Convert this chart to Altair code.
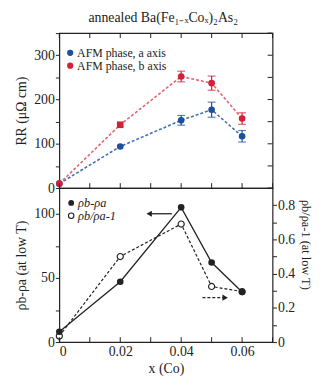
import altair as alt
import pandas as pd

# ---- data ----
x_co = [0.0, 0.02, 0.04, 0.05, 0.06]
rr_a = [10, 94, 153, 177, 117]
rr_a_err = [0, 4, 11, 17, 13]
rr_b = [10, 143, 252, 237, 157]
rr_b_err = [0, 4, 12, 16, 13]
diff_ba = [8, 47, 105, 62, 39]
ratio_ba = [0.035, 0.50, 0.69, 0.325, 0.295]

x_ticks = [0, 0.01, 0.02, 0.03, 0.04, 0.05, 0.06, 0.07]
rr_ticks = [0, 50, 100, 150, 200, 250, 300, 350]
diff_ticks = [0, 25, 50, 75, 100]
ratio_ticks = [0, 0.1, 0.2, 0.3, 0.4, 0.5, 0.6, 0.7, 0.8]

title_text = "annealed Ba(Fe₁₋ₓCoₓ)₂As₂"
legend_top = ["AFM phase, a axis", "AFM phase, b axis"]
legend_bot = ["ρb-ρa", "ρb/ρa-1"]

FONT = "Liberation Serif"
W, H1, H2 = 216, 157, 156
BLUE, RED = "#1c4f9c", "#d31f37"
LBLUE, LRED = "#4470b3", "#e06670"
INK = "#222222"

top_df = pd.DataFrame({"x": x_co, "a": rr_a, "a_err": rr_a_err, "b": rr_b, "b_err": rr_b_err})
top_df["a_lo"] = top_df["a"] - top_df["a_err"]
top_df["a_hi"] = top_df["a"] + top_df["a_err"]
top_df["b_lo"] = top_df["b"] - top_df["b_err"]
top_df["b_hi"] = top_df["b"] + top_df["b_err"]
bot_df = pd.DataFrame({"x": x_co, "d": diff_ba, "r": ratio_ba})
xt_df = pd.DataFrame({"t": x_ticks})
rrt_df = pd.DataFrame({"v": rr_ticks})
one = pd.DataFrame({"k": [0]})

xscale = alt.Scale(domain=[0, 0.07], nice=False, zero=False)

# ---------- top panel ----------
yscale_top = alt.Scale(domain=[0, 350], nice=False)
axis_top = alt.Axis(values=rr_ticks, labelExpr="datum.value % 100 === 0 ? datum.label : ''",
                    format="d", title="RR (μΩ cm)", tickSize=4, labelPadding=1, titlePadding=5)


def yt(field):
    return alt.Y(field, type="quantitative", scale=yscale_top, axis=axis_top)


def xt(field):
    return alt.X(field, type="quantitative", scale=xscale, axis=None)


tb = alt.Chart(top_df)
line_a = tb.mark_line(color=LBLUE, strokeDash=[3, 2], strokeWidth=1.6).encode(x=xt("x"), y=yt("a"))
line_b = tb.mark_line(color=LRED, strokeDash=[3, 2], strokeWidth=1.6).encode(x=xt("x"), y=yt("b"))
eb = []
for s, col in (("a", BLUE), ("b", RED)):
    base = tb.transform_filter(f"datum.{s}_err > 5")
    eb.append(base.mark_rule(color=col, strokeWidth=1.2).encode(x=xt("x"), y=yt(f"{s}_lo"), y2=f"{s}_hi"))
    eb.append(base.mark_tick(color=col, orient="horizontal", size=8, thickness=1.2).encode(x=xt("x"), y=yt(f"{s}_lo")))
    eb.append(base.mark_tick(color=col, orient="horizontal", size=8, thickness=1.2).encode(x=xt("x"), y=yt(f"{s}_hi")))
pts_a = tb.mark_point(shape="circle", filled=True, color=BLUE, size=45, opacity=1).encode(x=xt("x"), y=yt("a"))
pts_b_c = tb.transform_filter("datum.x != 0.02").mark_point(shape="circle", filled=True, color=RED, size=45, opacity=1).encode(x=xt("x"), y=yt("b"))
pts_b_s = tb.transform_filter("datum.x == 0.02").mark_point(shape="square", filled=True, color=RED, size=45, opacity=1).encode(x=xt("x"), y=yt("b"))

tk = alt.Chart(xt_df)
top_ticks_up = tk.mark_rule(color=INK).encode(x=xt("t"), y=alt.value(0), y2=alt.value(5))
top_ticks_dn = tk.mark_rule(color=INK).encode(x=xt("t"), y=alt.value(H1), y2=alt.value(H1 - 5))
top_ticks_r = alt.Chart(rrt_df).mark_rule(color=INK).encode(y=yt("v"), x=alt.value(W), x2=alt.value(W - 5))

lt = []
for i, (lab, col) in enumerate(zip(legend_top, (BLUE, RED))):
    d = pd.DataFrame({"label": [lab]})
    yy = 20 + 13 * i
    lt.append(alt.Chart(d).mark_point(shape="circle", filled=True, color=col, size=40, opacity=1)
              .encode(x=alt.value(11), y=alt.value(yy)))
    lt.append(alt.Chart(d).mark_text(font=FONT, fontSize=12, align="left", baseline="middle", color=INK)
              .encode(x=alt.value(18), y=alt.value(yy), text="label:N"))

top = alt.layer(line_a, line_b, *eb, pts_a, pts_b_c, pts_b_s,
                top_ticks_up, top_ticks_dn, top_ticks_r, *lt).properties(width=W, height=H1)

# ---------- bottom panel ----------
xaxis_bot = alt.Axis(values=x_ticks,
                     labelExpr="round(datum.value*100) % 2 === 0 ? (datum.value === 0 ? '0' : format(datum.value, '.2f')) : ''",
                     title="x (Co)", ticks=False, labelPadding=3, titlePadding=3)


def xb(field):
    return alt.X(field, type="quantitative", scale=xscale, axis=xaxis_bot)


yscale_l = alt.Scale(domain=[0, 120], nice=False)
axis_l = alt.Axis(orient="left", values=diff_ticks, format="d",
                  labelExpr="datum.value % 50 === 0 ? datum.label : ''",
                  title="ρb-ρa (at low T)", tickSize=4, labelPadding=1, titlePadding=5)
yscale_r = alt.Scale(domain=[0, 0.9], nice=False)
axis_r = alt.Axis(orient="right", values=ratio_ticks, format=".1~f",
                  labelExpr="round(datum.value*10) % 2 === 0 ? datum.label : ''",
                  title="ρb/ρa-1 (at low T)", titleFontSize=12.5, titleY=57,
                  tickSize=4, labelPadding=1, titlePadding=4)


def yl(field):
    return alt.Y(field, type="quantitative", scale=yscale_l, axis=axis_l)


def yr(field):
    return alt.Y(field, type="quantitative", scale=yscale_r, axis=axis_r)


bb = alt.Chart(bot_df)
ratio_line = bb.mark_line(color=INK, strokeDash=[3, 2], strokeWidth=1.2).encode(x=xb("x"), y=yr("r"))
ratio_pts = bb.mark_point(shape="circle", filled=True, fill="white", stroke=INK, strokeWidth=1.2,
                          size=38, opacity=1).encode(x=xb("x"), y=yr("r"))
right_layer = alt.layer(ratio_line, ratio_pts)

diff_line = bb.mark_line(color=INK, strokeWidth=1.3).encode(x=xb("x"), y=yl("d"))
diff_pts = bb.mark_point(shape="circle", filled=True, color=INK, size=45, opacity=1).encode(x=xb("x"), y=yl("d"))
bot_ticks = tk.mark_rule(color=INK).encode(x=xb("t"), y=alt.value(H2), y2=alt.value(H2 - 5))

lb = []
for i, lab in enumerate(legend_bot):
    d = pd.DataFrame({"label": [lab]})
    yy = 15 + 13 * i
    if i == 0:
        sym = alt.Chart(d).mark_point(shape="circle", filled=True, color=INK, size=35, opacity=1)
    else:
        sym = alt.Chart(d).mark_point(shape="circle", filled=True, fill="white", stroke=INK,
                                      strokeWidth=1.1, size=30, opacity=1)
    lb.append(sym.encode(x=alt.value(12), y=alt.value(yy)))
    lb.append(alt.Chart(d).mark_text(font=FONT, fontSize=12.5, fontStyle="italic", align="left",
                                     baseline="middle", color=INK)
              .encode(x=alt.value(19), y=alt.value(yy), text="label:N"))

arr_l = alt.Chart(one).mark_rule(color=INK, strokeWidth=1.3).encode(x=alt.value(93), x2=alt.value(114), y=alt.value(26))
arr_lh = alt.Chart(one).mark_point(shape="triangle-left", filled=True, color=INK, size=40, opacity=1).encode(x=alt.value(91), y=alt.value(26))
arr_r = alt.Chart(one).mark_rule(color=INK, strokeWidth=1.3, strokeDash=[3, 2]).encode(x=alt.value(145), x2=alt.value(166), y=alt.value(111))
arr_rh = alt.Chart(one).mark_point(shape="triangle-right", filled=True, color=INK, size=40, opacity=1).encode(x=alt.value(168), y=alt.value(111))

left_layer = alt.layer(diff_line, diff_pts, bot_ticks, *lb, arr_l, arr_lh, arr_r, arr_rh)

bottom = alt.layer(right_layer, left_layer).resolve_scale(y="independent").properties(width=W, height=H2)

chart = alt.vconcat(top, bottom, spacing=0, bounds="flush").properties(
    title=alt.TitleParams(title_text, font=FONT, fontSize=14, fontWeight="normal", color=INK,
                          anchor="middle", offset=7),
    padding={"left": 6, "top": 0, "right": 2, "bottom": 2},
).configure_view(stroke=INK, strokeWidth=1.2).configure_axis(
    labelFont=FONT, labelFontSize=14, titleFont=FONT, titleFontSize=14,
    titleFontWeight="normal", labelColor=INK, titleColor=INK, tickColor=INK,
    domain=False, grid=False,
)

chart.save("out.html", embed_options={"renderer": "svg", "actions": False})
